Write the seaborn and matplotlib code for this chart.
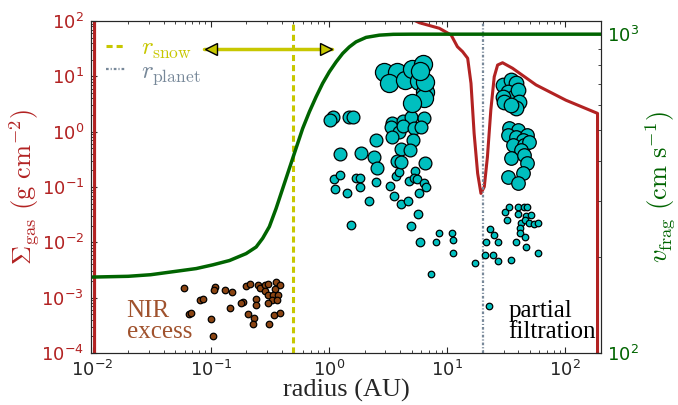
import matplotlib.pyplot as plt
from matplotlib.ticker import NullFormatter, LogLocator
from matplotlib.font_manager import FontProperties
import seaborn as sns

sns.set_style("ticks", {"xtick.direction": "in", "ytick.direction": "in"})
plt.rcParams['font.family'] = ['DejaVu Sans']
plt.rcParams['mathtext.fontset'] = 'dejavusans'
plt.rcParams['axes.unicode_minus'] = False

# gas surface density profile (AU, g cm^-2)
gas_r = [0.0104, 0.0104, 1.0, 5.81, 8.58, 10.8, 12.2, 13.5, 14.9, 15.9, 16.9, 18.1, 19.3,
         20.6, 21.9, 23.4, 25.0, 26.7, 29.4, 35.7, 56.4, 101, 187, 187]
gas_sigma = [1e-6, 1e4, 600, 93, 73.8, 55.8, 34.3, 27.9, 21.2, 7.47, 0.93, 0.176, 0.0766,
             0.101, 0.35, 2.46, 9.8, 16.0, 17.6, 14.0, 7.0, 3.7, 2.14, 1e-6]

# fragmentation velocity (cm/s)
vfrag_r = [0.0097, 0.02, 0.031, 0.0543, 0.0753, 0.104, 0.144, 0.199, 0.242, 0.275, 0.313,
           0.357, 0.406, 0.462, 0.527, 0.599, 0.683, 0.778, 0.884, 1.007, 1.148, 1.306, 1.487,
           1.694, 2.06, 2.67, 3.5, 5.0, 200]
vfrag = [173, 174, 176, 181, 184, 189, 195, 205, 215, 229, 249, 284, 328, 379, 439, 506, 571,
         636, 701, 762, 818, 870, 912, 946, 977, 993, 999, 1000, 1000]

r_snow = 0.5
r_planet = 20.0

# NIR excess discs
brown_r = [0.059, 0.109, 0.107, 0.133, 0.150, 0.197, 0.215, 0.253, 0.262, 0.286, 0.306, 0.286,
           0.357, 0.388, 0.352, 0.307, 0.334, 0.374, 0.332, 0.361, 0.306, 0.0813, 0.0856, 0.186,
           0.181, 0.240, 0.240, 0.146, 0.0652, 0.0687, 0.100, 0.206, 0.234, 0.226, 0.312, 0.341,
           0.388, 0.105]
brown_sigma = [1.50e-3, 1.57e-3, 1.37e-3, 1.38e-3, 1.27e-3, 1.63e-3, 1.75e-3, 1.68e-3, 1.50e-3,
               1.71e-3, 1.73e-3, 1.31e-3, 1.88e-3, 1.71e-3, 1.41e-3, 1.10e-3, 1.11e-3, 1.14e-3,
               9.0e-4, 8.9e-4, 8.05e-4, 9.1e-4, 9.5e-4, 8.4e-4, 7.85e-4, 9.3e-4, 7.3e-4, 6.55e-4,
               5.0e-4, 5.3e-4, 4.14e-4, 4.97e-4, 4.26e-4, 3.41e-4, 3.41e-4, 4.83e-4, 5.25e-4, 2.07e-4]

# dust points, grouped by marker size
big_r = [2.94, 3.73, 3.24, 4.42, 5.04, 6.28, 5.73, 6.53, 6.40, 5.04, 6.53, 5.9]
big_sigma = [11.8, 11.8, 7.66, 8.57, 13.4, 16.5, 8.32, 5.27, 4.0, 3.33, 8.0, 12.5]

med_r = [1.075, 1.02, 1.47, 1.59, 2.50, 1.24, 1.87, 2.42, 2.55, 3.42, 4.20, 4.94, 6.40, 3.35,
         3.94, 4.26, 5.27, 6.0, 3.42, 5.10, 4.07, 4.88, 3.77, 4.07, 6.49]
med_sigma = [1.81, 1.62, 1.81, 1.86, 0.705, 0.389, 0.415, 0.343, 0.217, 1.41, 1.57, 1.86, 1.74,
             1.20, 0.996, 1.26, 1.15, 1.20, 0.789, 0.705, 0.479, 0.465, 0.298, 0.279, 0.267]

small_r = [1.10, 1.24, 1.13, 1.42, 1.69, 1.84, 1.83, 2.17, 2.50, 3.29, 3.55, 3.69, 3.88, 5.30,
           4.72, 5.27, 5.56, 6.40, 6.62, 5.73, 4.09, 4.66, 1.54, 5.92, 4.97, 5.62]
small_sigma = [0.137, 0.164, 0.0906, 0.0785, 0.147, 0.147, 0.0984, 0.0556, 0.124, 0.105, 0.0694,
               0.157, 0.188, 0.196, 0.129, 0.143, 0.137, 0.119, 0.101, 0.0766, 0.049, 0.0563,
               0.0205, 0.00996, 0.0199, 0.0324]

tiny_r = [8.58, 8.04, 11.0, 11.3, 11.3, 7.30, 17.3, 23.0, 25.0, 21.3, 26.9, 20.7, 24.5, 27.0,
          34.8, 22.4, 30.8, 33.5, 39.4, 44.9, 47.6, 31.8, 39.9, 46.4, 50.7, 42.1, 45.1, 49.4,
          54.5, 58.6, 41.5, 41.3, 45.1, 38.2, 46.4, 58.6]
tiny_sigma = [0.0145, 0.0101, 0.0147, 0.0108, 0.00646, 0.00263, 0.00426, 0.0171, 0.0137, 0.0101,
              0.0101, 0.00588, 0.0058, 0.00457, 0.00471, 7.0e-4, 0.0348, 0.0428, 0.0438, 0.0438,
              0.0428, 0.0252, 0.0320, 0.0298, 0.0310, 0.0220, 0.0252, 0.0220, 0.0213, 0.0220,
              0.0178, 0.0145, 0.0126, 0.0102, 0.0083, 0.00646]

outer_top_r = [29.4, 34.6, 38.2, 32.4, 36.9, 29.4, 39.4, 40.7, 38.2, 30.4, 34.6]
outer_top_sigma = [6.96, 8.57, 7.47, 5.27, 4.28, 4.28, 5.65, 3.47, 2.64, 3.47, 3.03]

outer_mid_r = [33.5, 39.4, 32.4, 38.2, 47.8, 43.4, 35.7, 44.9, 49.4, 42.1, 34.6, 44.9, 47.8,
               43.4, 32.4, 39.4]
outer_mid_sigma = [1.15, 1.07, 0.868, 0.809, 0.868, 0.705, 0.573, 0.573, 0.657, 0.465, 0.329,
                   0.378, 0.267, 0.176, 0.153, 0.116]

# snow line movement arrow
arrow_r = [0.0885, 1.07]
arrow_sigma = 31.0

red = 'firebrick'
green = 'darkgreen'
snow_col = (0.78, 0.78, 0.0)
planet_col = 'lightslategray'

fig = plt.figure(figsize=(6.78, 4.05), dpi=100)
ax = fig.add_axes([0.1342, 0.1284, 0.7522, 0.8198])
ax.set_xscale('log')
ax.set_yscale('log')

sns.lineplot(x=gas_r, y=gas_sigma, sort=False, estimator=None, color=red, lw=2.2, ax=ax)

ax.axvline(r_snow, color=snow_col, lw=2.2, dashes=(2, 1.3), label=r'$r_{\rm snow}$')
ax.axvline(r_planet, color=planet_col, lw=1.6, dashes=(1.2, 0.9, 0.5, 0.9), label=r'$r_{\rm planet}$')

# double arrow
ax.plot(arrow_r, [arrow_sigma, arrow_sigma], color=snow_col, lw=2.5, zorder=4)
ax.plot([arrow_r[0] * 1.13], [arrow_sigma], marker='<', ms=9, mfc=snow_col, mec='k', mew=1, zorder=5)
ax.plot([arrow_r[1] / 1.13], [arrow_sigma], marker='>', ms=9, mfc=snow_col, mec='k', mew=1, zorder=5)


def dots(xs, ys, s, fc):
    sns.scatterplot(x=xs, y=ys, s=s, color=fc, edgecolor='k', linewidth=0.9, ax=ax, zorder=3)


dots(brown_r, brown_sigma, 22, 'saddlebrown')
dots(tiny_r, tiny_sigma, 22, 'c')
dots(small_r, small_sigma, 38, 'c')
dots(outer_mid_r, outer_mid_sigma, 95, 'c')
dots(outer_top_r, outer_top_sigma, 110, 'c')
dots(med_r, med_sigma, 85, 'c')
dots(big_r, big_sigma, 170, 'c')

ax.text(0.0194, 3.7e-4, 'NIR\nexcess', family='Liberation Serif', fontsize=18,
        color='sienna', ha='left', va='center', linespacing=0.95)
ax.text(32.8, 3.7e-4, 'partial\nfiltration', family='Liberation Serif', fontsize=18,
        color='k', ha='left', va='center', linespacing=0.95)

ax.set_xlim(0.0097, 200)
ax.set_ylim(1e-4, 1e2)
ax.set_xlabel('radius (AU)', fontsize=19, family='Liberation Serif', labelpad=-1)
ax.set_ylabel(r'$\Sigma_{\rm gas}\ ({\rm g\ cm^{-2}})$', fontsize=19, color=red,
              math_fontfamily='cm', labelpad=0)
ax.tick_params(which='both', direction='in', top=True, right=False, labelsize=13)
ax.tick_params(which='major', length=4, pad=5)
ax.tick_params(which='minor', length=2)
ax.tick_params(axis='y', labelcolor=red)

leg = ax.legend(loc='upper left', frameon=False, handlelength=0.8, handletextpad=0.6,
                labelspacing=-0.1, borderaxespad=0.3, borderpad=0.3,
                prop=FontProperties(size=18, math_fontfamily='cm'))
for txt, col in zip(leg.get_texts(), [snow_col, planet_col]):
    txt.set_color(col)

ax2 = ax.twinx()
ax2.set_yscale('log')
sns.lineplot(x=vfrag_r, y=vfrag, color=green, lw=2.5, ax=ax2)
ax2.set_ylim(100, 1100)
ax2.yaxis.set_minor_locator(LogLocator(base=10, subs=range(2, 10)))
ax2.yaxis.set_minor_formatter(NullFormatter())
ax2.set_ylabel(r'$v_{\rm frag}\ ({\rm cm\ s^{-1}})$', fontsize=19, color=green,
               math_fontfamily='cm', labelpad=3)
ax2.set_xlabel('')
ax2.xaxis.label.set_visible(False)
ax2.tick_params(which='both', direction='in', labelsize=13, labelcolor=green)
ax2.tick_params(which='major', length=4, pad=4)
ax2.tick_params(which='minor', length=2)
ax.set_xlim(0.0097, 200)

fig.savefig('out.png', dpi=100)
